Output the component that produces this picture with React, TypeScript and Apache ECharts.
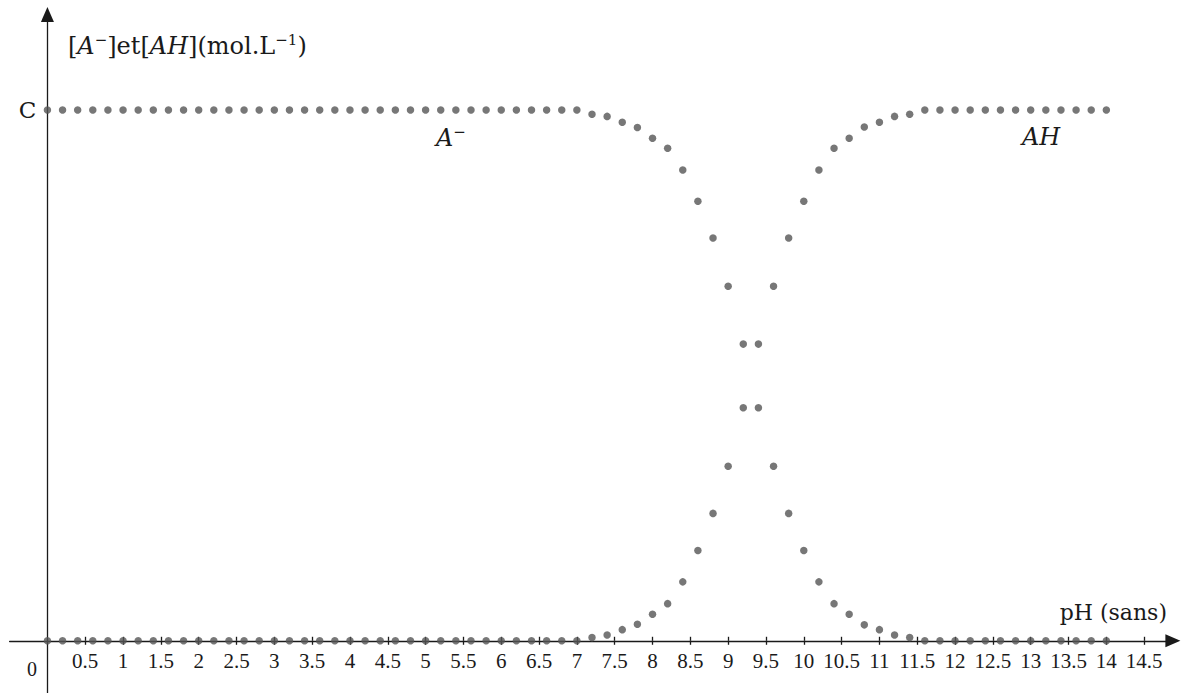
import { useEffect, useRef } from 'react';
import * as echarts from 'echarts';

// pH grid of the simulation (step 0.2)
const PH = [
  0, 0.2, 0.4, 0.6, 0.8, 1, 1.2, 1.4, 1.6, 1.8,
  2, 2.2, 2.4, 2.6, 2.8, 3, 3.2, 3.4, 3.6, 3.8,
  4, 4.2, 4.4, 4.6, 4.8, 5, 5.2, 5.4, 5.6, 5.8,
  6, 6.2, 6.4, 6.6, 6.8, 7, 7.2, 7.4, 7.6, 7.8,
  8, 8.2, 8.4, 8.6, 8.8, 9, 9.2, 9.4, 9.6, 9.8,
  10, 10.2, 10.4, 10.6, 10.8, 11, 11.2, 11.4, 11.6, 11.8,
  12, 12.2, 12.4, 12.6, 12.8, 13, 13.2, 13.4, 13.6, 13.8,
  14,
];

// Concentrations as a fraction of C
const A_MINUS = [
  1, 1, 1, 1, 1, 1, 1, 1, 1, 1,
  1, 1, 1, 1, 1, 1, 1, 1, 1, 1,
  1, 1, 1, 1, 1, 1, 1, 1, 1, 1,
  1, 1, 1, 1, 1, 1, 0.992, 0.988, 0.977, 0.967,
  0.947, 0.928, 0.887, 0.828, 0.759, 0.668, 0.559, 0.439, 0.329, 0.24,
  0.17, 0.111, 0.07, 0.05, 0.03, 0.021, 0.011, 0.006, 0, 0,
  0, 0, 0, 0, 0, 0, 0, 0, 0, 0,
  0,
];

const AH = [
  0, 0, 0, 0, 0, 0, 0, 0, 0, 0,
  0, 0, 0, 0, 0, 0, 0, 0, 0, 0,
  0, 0, 0, 0, 0, 0, 0, 0, 0, 0,
  0, 0, 0, 0, 0, 0, 0.006, 0.011, 0.021, 0.031,
  0.05, 0.07, 0.111, 0.17, 0.24, 0.329, 0.439, 0.559, 0.668, 0.759,
  0.828, 0.887, 0.928, 0.947, 0.968, 0.977, 0.988, 0.992, 1, 1,
  1, 1, 1, 1, 1, 1, 1, 1, 1, 1,
  1,
];

const X_TICKS = [
  0.5, 1, 1.5, 2, 2.5, 3, 3.5, 4, 4.5, 5, 5.5, 6, 6.5, 7, 7.5,
  8, 8.5, 9, 9.5, 10, 10.5, 11, 11.5, 12, 12.5, 13, 13.5, 14, 14.5,
];
const Y_TICKS = [1];
const Y_TICK_LABELS = ['C'];

const NUM_FONT = 'Liberation Serif';
const TXT_FONT = 'DejaVu Serif';
const INK = '#1a1a1a';
const DOT = '#555555';

// plot frame (pixels) and value ranges
const GRID_LEFT = 9.6;
const GRID_RIGHT = 8.1;
const GRID_TOP = 14.5;
const GRID_BOTTOM = 0.2;
const X_MIN = -0.5;
const X_MAX = 14.88;
const Y_MIN = -0.098;
const Y_MAX = 1.18;

const axisLineStyle = { color: INK, width: 1.3 };

export default function App() {
  const ref = useRef<HTMLDivElement>(null);

  useEffect(() => {
    document.body.style.margin = '0';
    const el = ref.current!;
    const chart = echarts.init(el, null, { renderer: 'svg' });

    // the axes cross at the origin: shift each axis from the frame edge to the zero of the other
    const W = 1181;
    const H = 693;
    const plotW = W - GRID_LEFT - GRID_RIGHT;
    const plotH = H - GRID_TOP - GRID_BOTTOM;
    const xShift = ((0 - X_MIN) / (X_MAX - X_MIN)) * plotW;
    const yShift = ((0 - Y_MIN) / (Y_MAX - Y_MIN)) * plotH;

    const option: any = {
      animation: false,
      backgroundColor: '#ffffff',
      grid: {
        left: GRID_LEFT,
        right: GRID_RIGHT,
        top: GRID_TOP,
        bottom: GRID_BOTTOM,
        containLabel: false,
        outerBoundsMode: 'none',
      },
      xAxis: [
        {
          type: 'value',
          position: 'bottom',
          offset: -yShift,
          min: X_MIN,
          max: X_MAX,
          axisLine: {
            onZero: false,
            lineStyle: axisLineStyle,
            symbol: ['none', 'triangle'],
            symbolSize: [13, 15],
          },
          axisTick: {
            show: true,
            customValues: X_TICKS,
            length: 4,
            lineStyle: axisLineStyle,
          },
          axisLabel: {
            customValues: X_TICKS,
            formatter: (v: number) => String(v),
            fontFamily: NUM_FONT,
            fontSize: 21,
            color: INK,
            margin: 10,
          },
          splitLine: { show: false },
        },
        {
          type: 'value',
          position: 'bottom',
          offset: -yShift,
          min: X_MIN,
          max: X_MAX,
          axisLine: { onZero: false, show: false },
          axisTick: {
            show: true,
            inside: true,
            customValues: X_TICKS,
            length: 4,
            lineStyle: axisLineStyle,
          },
          axisLabel: { show: false },
          splitLine: { show: false },
        },
      ],
      yAxis: {
        type: 'value',
        position: 'left',
        offset: -xShift,
        min: Y_MIN,
        max: Y_MAX,
        axisLine: {
          onZero: false,
          lineStyle: axisLineStyle,
          symbol: ['none', 'triangle'],
          symbolSize: [13, 15],
        },
        axisTick: { show: false },
        axisLabel: {
          customValues: Y_TICKS,
          formatter: (v: number) => Y_TICK_LABELS[Y_TICKS.indexOf(v)] ?? '',
          fontFamily: TXT_FONT,
          fontSize: 23,
          color: INK,
          margin: 11,
        },
        splitLine: { show: false },
      },
      series: [
        {
          name: 'A-',
          type: 'scatter',
          xAxisIndex: 0,
          data: PH.map((x, i) => [x, A_MINUS[i]]),
          symbolSize: 7.5,
          itemStyle: { color: DOT },
          silent: true,
        },
        {
          name: 'AH',
          type: 'scatter',
          xAxisIndex: 0,
          data: PH.map((x, i) => [x, AH[i]]),
          symbolSize: 7.5,
          itemStyle: { color: DOT },
          silent: true,
        },
      ],
      graphic: [
        {
          type: 'text',
          x: 32,
          y: 669,
          style: {
            text: '0',
            font: `20px "${NUM_FONT}"`,
            fill: INK,
            align: 'center',
            verticalAlign: 'middle',
          },
        },
        {
          type: 'text',
          x: 68,
          y: 46,
          style: {
            text: '{n|[}{i|A}{s|−}{n|]et[}{i|AH}{n|](mol.L}{s|−1}{n|)}',
            align: 'left',
            verticalAlign: 'middle',
            fill: INK,
            rich: {
              n: { fontFamily: TXT_FONT, fontSize: 24, lineHeight: 28, fill: INK },
              i: { fontFamily: TXT_FONT, fontSize: 24, fontStyle: 'italic', lineHeight: 28, fill: INK },
              s: { fontFamily: TXT_FONT, fontSize: 15, lineHeight: 11, verticalAlign: 'top', fill: INK },
            },
          },
        },
        {
          type: 'text',
          x: 436,
          y: 138,
          style: {
            text: '{i|A}{s|−}',
            align: 'left',
            verticalAlign: 'middle',
            fill: INK,
            rich: {
              i: { fontFamily: TXT_FONT, fontSize: 24, fontStyle: 'italic', lineHeight: 27, fill: INK },
              s: { fontFamily: TXT_FONT, fontSize: 15, lineHeight: 10, verticalAlign: 'top', fill: INK },
            },
          },
        },
        {
          type: 'text',
          x: 1041,
          y: 137,
          style: {
            text: 'AH',
            font: `italic 24px "${TXT_FONT}"`,
            fill: INK,
            align: 'center',
            verticalAlign: 'middle',
          },
        },
        {
          type: 'text',
          x: 1167,
          y: 612,
          style: {
            text: 'pH (sans)',
            font: `22px "${TXT_FONT}"`,
            fill: INK,
            align: 'right',
            verticalAlign: 'middle',
          },
        },
      ],
    };

    chart.setOption(option);
    return () => chart.dispose();
  }, []);

  return <div ref={ref} style={{ width: 1181, height: 693 }} />;
}
